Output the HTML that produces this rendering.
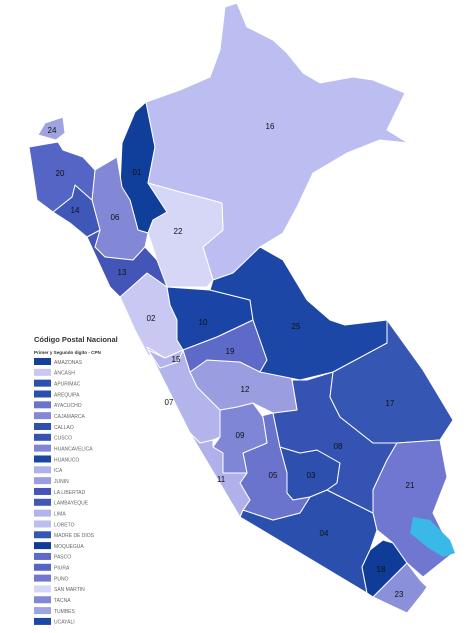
<!DOCTYPE html>
<html><head><meta charset="utf-8">
<style>
html,body{margin:0;padding:0;background:#fff;width:475px;height:633px;overflow:hidden}
svg{display:block}
text{font-family:"Liberation Sans",sans-serif}
</style></head>
<body>
<svg id="map" width="475" height="633" viewBox="0 0 475 633" xmlns="http://www.w3.org/2000/svg">
<g id="regions"></g>
<g id="labels"></g>
<g id="legend">
<text x="34" y="342" font-size="7.5" font-weight="bold" fill="#333">Código Postal Nacional</text>
<text x="34" y="354" font-size="4.6" font-weight="bold" fill="#333">Primer y Segundo dígito - CPN</text>
</g>
</svg>
<script>
const codes=["01","02","03","04","05","06","07","08","09","10","11","12","13","14","15","16","17","18","19","20","21","22","23","24","25"];
const fills=["#0f3f9b","#c8c8f3","#2d4fad","#2b4fad","#6a74cc","#8288d6","#b3b4ec","#3553b3","#7f86d6","#1a44a5","#b0b1ea","#9a9de0","#4455b8","#3f58b8","#b3b4ec","#bcbdf0","#3656b3","#0f3c98","#5e6ac8","#5565c6","#7077d0","#d6d6f7","#8b90da","#9fa3e2","#1c47a7"];
const labelX=[137,151,311,324,273,115,169,338,240,203,221,245,122,75,176,270,390,381,230,60,410,178,399,52,296];
const labelY=[172,318,475,533,475,217,402,446,435,322,479,389,272,210,359,126,403,569,351,173,485,231,594,130,326];
const shapes={
"16":"146,102 180,90 210,77 220,50 225,7 237,3 247,27 273,40 287,53 303,73 320,83 353,77 373,80 405,93 387,130 408,143 380,140 347,153 313,173 297,207 283,233 260,247 233,273 213,280 203,247 223,230 222,203 200,197 180,192 148,183 155,147",
"01":"146,102 155,147 148,183 167,212 153,220 148,233 138,230 130,200 120,187 122,143 135,112",
"22":"148,183 180,192 200,197 222,203 223,230 203,247 213,280 207,287 167,287 157,260 148,233 153,220 167,212",
"24":"38,135 45,123 63,117 65,133 56,140",
"20":"29,147 58,142 63,150 83,157 95,170 92,200 75,185 72,197 53,212 37,200 33,173",
"14":"53,212 72,197 75,185 92,200 100,230 87,237 70,223",
"06":"92,200 95,170 117,157 122,187 130,200 138,230 148,233 145,247 133,260 105,257 95,247 100,230",
"13":"87,237 100,230 95,247 105,257 133,260 145,247 157,260 163,273 175,277 167,287 147,273 120,297 110,287",
"02":"120,297 147,273 167,287 170,305 177,320 177,340 183,350 165,358 148,355 135,330",
"10":"167,287 210,290 250,300 253,320 217,337 183,350 177,340 177,320 170,305",
"25":"213,280 233,273 260,247 283,260 307,300 330,320 345,325 387,320 387,343 333,372 300,380 260,372 267,360 253,320 250,300 210,290",
"19":"183,350 217,337 253,320 267,360 260,372 240,362 207,360 190,372",
"07":"147,347 165,358 183,350 190,372 197,387 220,410 220,437 213,440 200,443 190,433",
"12":"190,372 207,360 240,362 260,372 280,363 287,367 292,380 297,410 273,413 253,403 237,407 220,410 197,387",
"09":"220,410 237,407 253,403 263,417 267,443 243,453 247,473 223,473 223,453 213,447 220,437",
"11":"190,433 200,443 213,440 213,447 223,453 223,473 247,473 240,483 250,500 243,510 240,517",
"05":"257,417 273,413 280,447 287,473 287,493 293,500 310,497 300,513 273,520 243,510 250,500 240,483 247,473 243,453 267,443 263,417",
"03":"280,447 300,453 317,450 340,463 337,483 327,490 310,497 293,500 287,493 287,473",
"04":"240,517 243,510 273,520 300,513 310,497 327,490 347,500 373,513 377,530 370,550 362,567 367,593",
"08":"297,410 292,380 307,380 333,372 330,397 340,417 373,443 397,443 387,460 373,490 373,513 347,500 327,490 337,483 340,463 317,450 300,453 280,447 273,413",
"17":"333,372 387,343 387,320 423,370 453,420 440,440 397,443 373,443 340,417 330,397",
"21":"397,443 440,440 447,477 433,513 453,553 423,577 407,563 393,543 377,530 373,513 373,490 387,460",
"18":"370,550 383,540 393,543 407,563 400,570 373,597 367,593 362,567",
"23":"400,570 407,563 420,580 427,587 423,593 407,613 373,597",
"15":"148,350 165,358 183,350 178,362 160,368"
};
const names=["AMAZONAS","ANCASH","APURIMAC","AREQUIPA","AYACUCHO","CAJAMARCA","CALLAO","CUSCO","HUANCAVELICA","HUANUCO","ICA","JUNIN","LA LIBERTAD","LAMBAYEQUE","LIMA","LORETO","MADRE DE DIOS","MOQUEGUA","PASCO","PIURA","PUNO","SAN MARTIN","TACNA","TUMBES","UCAYALI"];
const legendFills=["#153f9b","#c8c8f3","#2d4fad","#2b4fad","#6a74cc","#8288d6","#2d4fad","#3553b3","#7f86d6","#1a44a5","#b0b1ea","#9a9de0","#4455b8","#3f58b8","#b3b4ec","#bcbdf0","#3656b3","#0f3c98","#5e6ac8","#5565c6","#7077d0","#d6d6f7","#8288d6","#9fa3e2","#1c47a7"];
const NS="http://www.w3.org/2000/svg";
const rg=document.getElementById('regions'),lg=document.getElementById('labels'),leg=document.getElementById('legend');
codes.forEach((c,i)=>{
  if(!shapes[c])return;
  const p=document.createElementNS(NS,'polygon');
  p.setAttribute('points',shapes[c]);
  p.setAttribute('fill',fills[i]);
  p.setAttribute('stroke','#fff');p.setAttribute('stroke-width','1');p.setAttribute('stroke-linejoin','round');
  
  
  rg.appendChild(p);
});
const lake=document.createElementNS(NS,'polygon');
lake.setAttribute('points','413,517 430,520 450,540 455,553 443,557 427,547 410,533');
lake.setAttribute('fill','#3ab8e8');


rg.appendChild(lake);
codes.forEach((c,i)=>{
  const t=document.createElementNS(NS,'text');
  t.setAttribute('x',labelX[i]);t.setAttribute('y',labelY[i]+3);
  t.setAttribute('text-anchor','middle');t.setAttribute('font-size','8');t.setAttribute('fill','#111');
  t.textContent=c;
  
  
  lg.appendChild(t);
});
names.forEach((n,i)=>{
  const y=358+i*10.83;
  const r=document.createElementNS(NS,'rect');
  r.setAttribute('x',34);r.setAttribute('y',y);r.setAttribute('width',17);r.setAttribute('height',7);
  r.setAttribute('fill',legendFills[i]);
  
  
  leg.appendChild(r);
  const t=document.createElementNS(NS,'text');
  t.setAttribute('x',54);t.setAttribute('y',y+5.8);t.setAttribute('font-size','5');t.setAttribute('fill','#666');
  t.textContent=n;
  
  
  leg.appendChild(t);
});
</script>
</body></html>
